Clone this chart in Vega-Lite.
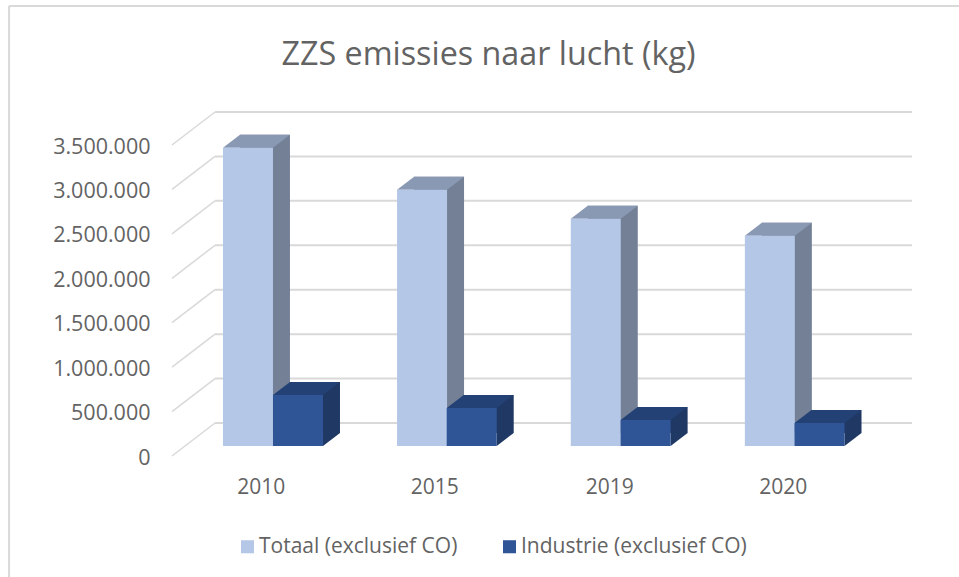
{
"$schema":"https://vega.github.io/schema/vega-lite/v6.json",
"width":697,"height":311,
"autosize":{"type":"none"},
"padding":{"left":172,"top":145,"right":90,"bottom":121},
"background":"white",
"title":{"text":"ZZS emissies naar lucht (kg)","anchor":"middle","dx":-32,"offset":-66,"fontSize":32.3,"fontWeight":"normal","font":"Open Sans","color":"#636363"},
"config":{"view":{"stroke":null},"font":"Open Sans"},
"datasets":{
"rijen":[
{"jaar":"2010","reeks":"Totaal (exclusief CO)","pos":0.436,"waarde":3356000},
{"jaar":"2010","reeks":"Industrie (exclusief  CO)","pos":0.723,"waarde":574000},
{"jaar":"2015","reeks":"Totaal (exclusief CO)","pos":1.435,"waarde":2883000},
{"jaar":"2015","reeks":"Industrie (exclusief  CO)","pos":1.720,"waarde":428000},
{"jaar":"2019","reeks":"Totaal (exclusief CO)","pos":2.432,"waarde":2557000},
{"jaar":"2019","reeks":"Industrie (exclusief  CO)","pos":2.718,"waarde":293000},
{"jaar":"2020","reeks":"Totaal (exclusief CO)","pos":3.431,"waarde":2365000},
{"jaar":"2020","reeks":"Industrie (exclusief  CO)","pos":3.716,"waarde":259000}
],
"raster":[{"v":0},{"v":500000},{"v":1000000},{"v":1500000},{"v":2000000},{"v":2500000},{"v":3000000},{"v":3500000}]
},
"layer":[
{"data":{"values":[{"kader":"links"}]},"mark":{"type":"rule","color":"#D9D9D9","strokeWidth":2},
"encoding":{"x":{"datum":-0.935,"type":"quantitative","scale":{"domain":[0,4],"nice":false,"padding":0}},"y":{"datum":5064000,"type":"quantitative","scale":{"domain":[0,3500000],"nice":false}},"y2":{"datum":-1361000}}},
{"data":{"values":[{"kader":"boven"}]},"mark":{"type":"rule","color":"#D9D9D9","strokeWidth":2},
"encoding":{"x":{"datum":-0.935,"type":"quantitative","scale":{"domain":[0,4],"nice":false,"padding":0}},"x2":{"datum":4.517},"y":{"datum":5064000,"type":"quantitative","scale":{"domain":[0,3500000],"nice":false}}}},
{"data":{"name":"raster"},"mark":{"type":"rule","color":"#D9D9D9","strokeWidth":1.5,"y2Offset":-33},
"encoding":{
"x":{"datum":0,"type":"quantitative","scale":{"domain":[0,4],"nice":false,"padding":0},
"axis":{"values":[0.51,1.505,2.51,3.505],"title":null,"domain":false,"ticks":false,"grid":false,"labelFontSize":21,"labelColor":"#636363","labelPadding":20,"labelExpr":"['2010','2015','2019','2020'][floor(datum.value)]"}},
"x2":{"datum":0.2468},
"y":{"field":"v","type":"quantitative","scale":{"domain":[0,3500000],"nice":false},
"axis":{"values":[0,500000,1000000,1500000,2000000,2500000,3000000,3500000],"title":null,"domain":false,"ticks":false,"grid":false,"labelFontSize":21.5,"labelColor":"#636363","labelPadding":22,"labelOffset":2,"labelExpr":"replace(format(datum.value,','),/,/g,'.')"}},
"y2":{"field":"v"}}},
{"data":{"name":"raster"},"mark":{"type":"rule","color":"#D9D9D9","strokeWidth":2,"yOffset":-33,"y2Offset":-33},
"encoding":{"x":{"datum":0.2468,"type":"quantitative","scale":{"domain":[0,4],"nice":false,"padding":0}},"x2":{"datum":4.2468},"y":{"field":"v","type":"quantitative","scale":{"domain":[0,3500000],"nice":false}},"y2":{"field":"v"}}},
{"data":{"name":"rijen"},"mark":{"type":"bar","size":50,"xOffset":17,"yOffset":-23,"y2Offset":-23},
"encoding":{"x":{"field":"pos","type":"quantitative","scale":{"domain":[0,4],"nice":false,"padding":0}},"y":{"field":"waarde","type":"quantitative","stack":null,"scale":{"domain":[0,3500000],"nice":false}},"y2":{"datum":0},
"color":{"field":"reeks","type":"nominal","sort":null,"legend":null,"scale":{"domain":["Totaal (exclusief CO)","Industrie (exclusief  CO)"],"range":["#748096","#1F3864"]}}}},
{"data":{"name":"rijen"},"mark":{"type":"point","filled":true,"opacity":1,"strokeWidth":0,"size":4,"yOffset":-10,"shape":"M25 0 L42 -13 L25 -13 Z"},
"encoding":{"x":{"field":"pos","type":"quantitative","scale":{"domain":[0,4],"nice":false,"padding":0}},"y":{"datum":0,"type":"quantitative","scale":{"domain":[0,3500000],"nice":false}},
"color":{"field":"reeks","type":"nominal","sort":null,"legend":null,"scale":{"domain":["Totaal (exclusief CO)","Industrie (exclusief  CO)"],"range":["#748096","#1F3864"]}}}},
{"data":{"name":"rijen"},"mark":{"type":"point","filled":true,"opacity":1,"strokeWidth":0,"size":4,"yOffset":-10,"shape":"M-25 0 L25 0 L42 -13 L-8 -13 Z"},
"encoding":{"x":{"field":"pos","type":"quantitative","scale":{"domain":[0,4],"nice":false,"padding":0}},"y":{"field":"waarde","type":"quantitative","scale":{"domain":[0,3500000],"nice":false}},
"color":{"field":"reeks","type":"nominal","sort":null,"legend":null,"scale":{"domain":["Totaal (exclusief CO)","Industrie (exclusief  CO)"],"range":["#8A99B3","#234175"]}}}},
{"data":{"name":"rijen"},"mark":{"type":"bar","size":50,"yOffset":-10,"y2Offset":-10},
"encoding":{"x":{"field":"pos","type":"quantitative","scale":{"domain":[0,4],"nice":false,"padding":0}},"y":{"field":"waarde","type":"quantitative","stack":null,"scale":{"domain":[0,3500000],"nice":false}},"y2":{"datum":0},
"color":{"field":"reeks","type":"nominal","sort":null,"scale":{"domain":["Totaal (exclusief CO)","Industrie (exclusief  CO)"],"range":["#B4C7E7","#2F5597"]},
"legend":{"title":null,"orient":"none","legendX":65,"legendY":391,"direction":"horizontal","symbolType":"square","symbolSize":170,"symbolStrokeWidth":0,"labelFontSize":21,"labelColor":"#636363","labelOffset":1,"columnPadding":41,"labelLimit":300}}}}
],
"resolve":{"scale":{"color":"independent"}}
}
